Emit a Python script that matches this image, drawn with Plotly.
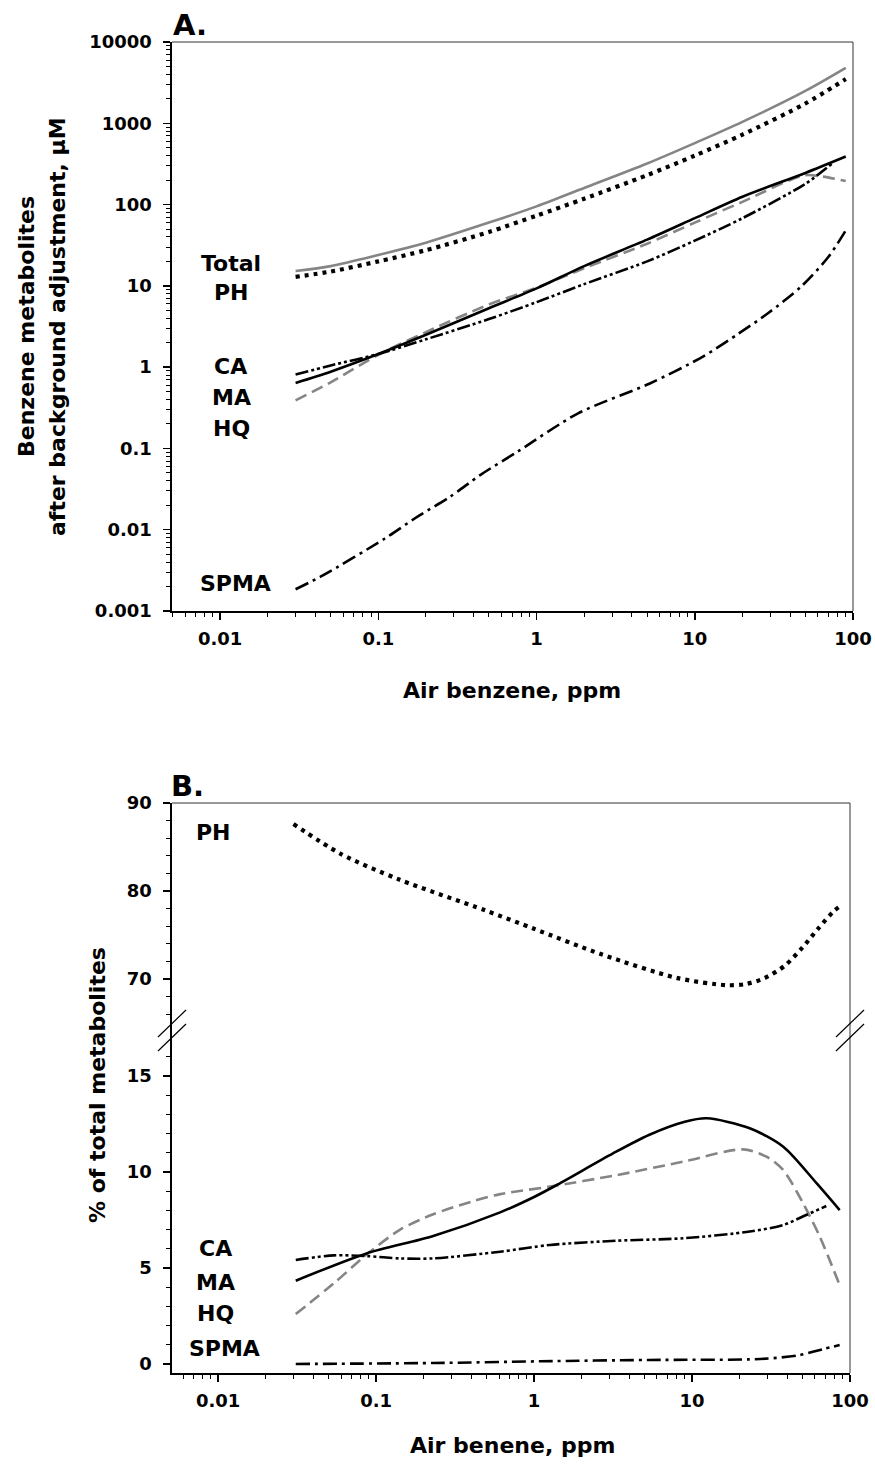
import plotly.graph_objects as go

W, H = 875, 1466
def px(x): return x / W
def py(y): return 1 - y / H

# ---------------- Panel A data (µM) ----------------
xa = [0.03, 0.05, 0.1, 0.2, 0.5, 1, 2, 5, 10, 20, 50, 90]
total_a = [15.2, 17.5, 24, 34, 60, 95, 160, 320, 570, 1040, 2500, 4800]
ph_a = [12.9, 15, 20, 27.5, 46, 73, 118, 230, 400, 725, 1750, 3500]
ma_a = [0.64, 0.88, 1.45, 2.5, 5.3, 9.3, 17.5, 37, 68, 125, 245, 390]
hq_xa = [0.03, 0.05, 0.1, 0.2, 0.5, 1, 2, 5, 10, 20, 49, 63, 90]
hq_a = [0.39, 0.65, 1.42, 2.7, 5.9, 9.5, 16.5, 33, 60, 108, 229, 222, 195]
ca_xa = [0.03, 0.05, 0.1, 0.2, 0.5, 1, 2, 5, 10, 20, 50, 74]
ca_a = [0.81, 1.05, 1.45, 2.2, 3.9, 6.3, 10.5, 20, 36, 68, 180, 321]
spma_xa = [0.03, 0.044, 0.11, 0.176, 0.285, 0.44, 0.757, 1.83, 5.2, 11.2, 19, 29, 47, 70, 90]
spma_a = [0.00185, 0.0027, 0.0078, 0.0144, 0.0255, 0.047, 0.091, 0.27, 0.63, 1.34, 2.6, 4.6, 9.8, 22.8, 48]

# ---------------- Panel B data (% of total) ----------------
ph_xb = [0.03, 0.06, 0.14, 0.49, 1, 2.67, 8.1, 16.5, 21.6, 28.8, 38.6, 49.6, 62.7, 80, 89]
ph_b = [87.6, 84.2, 81.3, 77.8, 75.7, 72.8, 70.1, 69.3, 69.4, 70.1, 71.5, 73.5, 75.7, 77.8, 78.4]
ma_xb = [0.031, 0.087, 0.23, 0.61, 1.0, 1.41, 3.16, 5.33, 9.0, 12.4, 23.2, 37.8, 61.4, 86]
ma_b = [4.34, 5.76, 6.67, 7.9, 8.7, 9.35, 10.97, 11.93, 12.62, 12.8, 12.28, 11.32, 9.42, 8.02]
hq_xb = [0.031, 0.054, 0.087, 0.142, 0.23, 0.4, 0.61, 1.26, 3.33, 8.8, 21, 29.6, 37.8, 50.5, 64.4, 86]
hq_b = [2.6, 4.2, 5.7, 7.0, 7.8, 8.45, 8.85, 9.24, 9.84, 10.54, 11.18, 10.8, 10.1, 8.37, 6.63, 4.11]
ca_xb = [0.031, 0.054, 0.087, 0.142, 0.23, 0.61, 1.26, 3.33, 8.8, 23.2, 37.8, 52.8, 70.8]
ca_b = [5.42, 5.66, 5.62, 5.5, 5.5, 5.85, 6.2, 6.42, 6.55, 6.9, 7.24, 7.76, 8.23]
spma_xb = [0.031, 0.23, 1.1, 5.3, 27, 47, 68, 86]
spma_b = [0.0, 0.05, 0.14, 0.21, 0.26, 0.45, 0.78, 0.99]

x_ticks = [0.01, 0.1, 1, 10, 100]
x_ticktext = ["0.01", "0.1", "1", "10", "100"]
ya_ticks = [0.001, 0.01, 0.1, 1, 10, 100, 1000, 10000]
ya_ticktext = ["0.001", "0.01", "0.1", "1", "10", "100", "1000", "10000"]

FONT = "DejaVu Sans"
GRAY = "#858585"
styles = {
    "total": dict(color=GRAY, width=2.6, dash="solid"),
    "ph": dict(color="black", width=4.2, dash="4px,5px"),
    "ma": dict(color="black", width=2.6, dash="solid"),
    "hq": dict(color=GRAY, width=2.6, dash="12px,6px"),
    "ca": dict(color="black", width=2.6, dash="13px,3px,3px,3px,3px,3px"),
    "spma": dict(color="black", width=2.6, dash="14px,5px,3px,5px"),
}

fig = go.Figure()

def add(x, y, st, xa_, ya_):
    fig.add_trace(go.Scatter(x=x, y=y, mode="lines", line=dict(shape="spline", smoothing=0.8, **styles[st]),
                             xaxis=xa_, yaxis=ya_, showlegend=False, hoverinfo="skip"))

add(xa, total_a, "total", "x", "y")
add(xa, ph_a, "ph", "x", "y")
add(hq_xa, hq_a, "hq", "x", "y")
add(xa, ma_a, "ma", "x", "y")
add(ca_xa, ca_a, "ca", "x", "y")
add(spma_xa, spma_a, "spma", "x", "y")

add(ph_xb, ph_b, "ph", "x2", "y2")
add(hq_xb, hq_b, "hq", "x2", "y3")
add(ma_xb, ma_b, "ma", "x2", "y3")
add(ca_xb, ca_b, "ca", "x2", "y3")
add(spma_xb, spma_b, "spma", "x2", "y3")

def minor_log(lo, hi):
    out = []
    d = lo
    while d < hi:
        for m in range(2, 10):
            out.append(m * d)
        d *= 10
    return out

tickfont = dict(family=FONT, size=18, color="black", weight="bold")
common = dict(showgrid=False, zeroline=False, showline=True, linecolor="black", linewidth=1.6,
              ticks="outside", ticklen=7, tickwidth=1.5, tickcolor="black", tickfont=tickfont,
              automargin=False)
minor_style = dict(ticks="outside", ticklen=4, tickwidth=1, tickcolor="black")

minor_x = [v for v in minor_log(0.001, 100) if 0.005 <= v <= 100]
minor_ya = minor_log(0.001, 10000)

fig.update_layout(
    template="none",
    width=W, height=H, margin=dict(l=0, r=0, t=0, b=0, pad=0, autoexpand=False),
    paper_bgcolor="white", plot_bgcolor="white",
    font=dict(family=FONT, color="black"),
    xaxis=dict(domain=[px(172), px(853)], anchor="y", type="log", range=[-2.304, 2.0],
               tickvals=x_ticks, ticktext=x_ticktext, ticklabelstandoff=4,
               minor=dict(tickvals=minor_x, **minor_style), **common),
    yaxis=dict(domain=[py(611), py(42)], anchor="x", type="log", range=[-3, 4],
               tickvals=ya_ticks, ticktext=ya_ticktext, ticklabelstandoff=8,
               minor=dict(tickvals=minor_ya, **minor_style), **common),
    xaxis2=dict(domain=[px(172), px(850)], anchor="y3", type="log", range=[-2.292, 2.0],
                tickvals=x_ticks, ticktext=x_ticktext, ticklabelstandoff=4,
                minor=dict(tickvals=minor_x, **minor_style), **common),
    yaxis2=dict(domain=[py(1030), py(803)], anchor="x2", range=[64.2, 90],
                tickvals=[70, 80, 90], ticklabelstandoff=8,
                minor=dict(tickvals=[66, 68, 72, 74, 76, 78, 82, 84, 86, 88], **minor_style), **common),
    yaxis3=dict(domain=[py(1373), py(1030)], anchor="x2", range=[-0.47, 17.4],
                tickvals=[0, 5, 10, 15], ticklabelstandoff=8,
                minor=dict(tickvals=[1, 2, 3, 4, 6, 7, 8, 9, 11, 12, 13, 14, 16], **minor_style), **common),
)

shapes = []
def seg(x0, y0, x1, y1, w=1.0, c="#333333"):
    shapes.append(dict(type="line", xref="paper", yref="paper", x0=px(x0), y0=py(y0), x1=px(x1), y1=py(y1),
                       line=dict(color=c, width=w)))
# frames
seg(172, 42, 853, 42); seg(853, 42, 853, 611)
seg(172, 803, 850, 803); seg(850, 803, 850, 1373)
# axis break marks
seg(158, 1037, 186, 1010, 1.2, "black"); seg(158, 1051, 186, 1024, 1.2, "black")
seg(836, 1037, 864, 1010, 1.2, "black"); seg(836, 1051, 864, 1024, 1.2, "black")
fig.update_layout(shapes=shapes)

ann = []
def text(t, x, y, size=22, angle=0):
    ann.append(dict(text="<b>%s</b>" % t, x=px(x), y=py(y), xref="paper", yref="paper", showarrow=False,
                    xanchor="center", yanchor="middle", textangle=angle,
                    font=dict(family=FONT, size=size, color="black")))

text("A.", 190, 25, 29)
text("B.", 187, 786, 29)
# panel A labels
text("Total", 231, 263); text("PH", 232, 292)
text("CA", 230, 366); text("MA", 231, 398); text("HQ", 232, 428)
text("SPMA", 235, 583)
# panel B labels
text("PH", 213, 832)
text("CA", 215, 1248); text("MA", 215, 1282); text("HQ", 215, 1313); text("SPMA", 225, 1348)
# axis titles
text("Benzene metabolites", 26, 327, 22, -90)
text("after background adjustment, µM", 57, 327, 22, -90)
text("Air benzene, ppm", 512, 690, 22)
text("% of total metabolites", 97, 1085, 22, -90)
text("Air benene, ppm", 512, 1445, 22)
fig.update_layout(annotations=ann)

fig.write_html("out.html",
               config={"displayModeBar": False, "staticPlot": True},
               post_script="document.body.style.margin='0px';document.body.style.padding='0px';"
                           "document.documentElement.style.overflow='hidden';")
